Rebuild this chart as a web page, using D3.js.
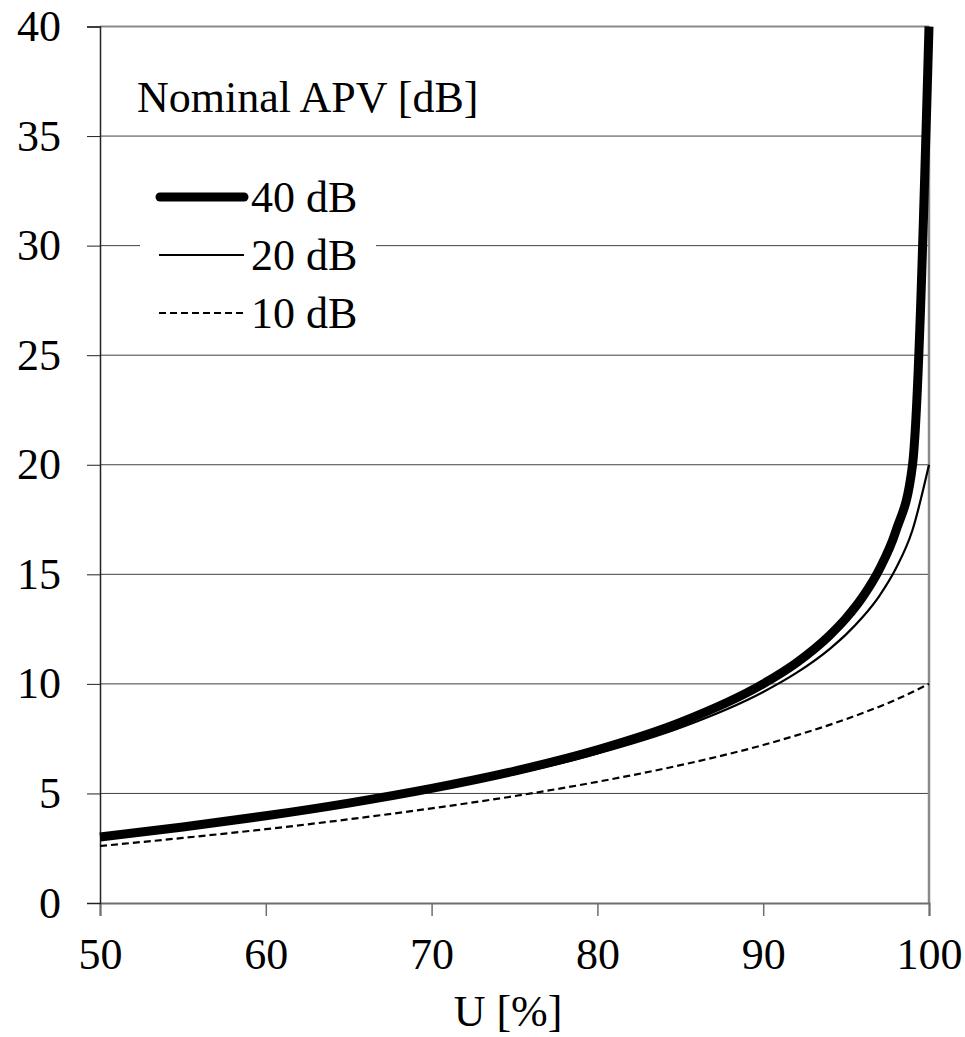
<!DOCTYPE html>
<html>
<head>
<meta charset="utf-8">
<script src="https://cdn.jsdelivr.net/npm/d3@7"></script>
</head>
<body style="margin:0">
<svg id="chart" width="965" height="1037"></svg>
<script>
// ---- data ----
const uValues = [50, 55, 60, 65, 70, 75, 80, 85, 90, 92, 94, 95, 96, 97, 98, 99, 100];
const apv40 = [3.01, 3.47, 3.98, 4.56, 5.23, 6.02, 6.99, 8.24, 10.00, 10.96, 12.21, 13.00, 13.97, 15.22, 16.97, 19.96, 40.0];
const apv20 = [2.97, 3.42, 3.92, 4.48, 5.13, 5.89, 6.82, 8.00, 9.63, 10.50, 11.59, 12.26, 13.05, 14.01, 15.26, 17.01, 20.0];
const apv10 = [2.60, 2.97, 3.37, 3.82, 4.32, 4.88, 5.53, 6.29, 7.21, 7.65, 8.13, 8.39, 8.67, 8.96, 9.28, 9.63, 10.0];
const seriesNames = ["40 dB", "20 dB", "10 dB"];
const xTicks = [50, 60, 70, 80, 90, 100];
const yTicks = [0, 5, 10, 15, 20, 25, 30, 35, 40];
const legendTitle = "Nominal APV [dB]";
const xAxisTitle = "U [%]";

// ---- layout ----
const svg = d3.select("#chart");
const x = d3.scaleLinear().domain([50, 100]).range([100, 929]);
const y = d3.scaleLinear().domain([0, 40]).range([903, 26.5]);
function styleText(sel) {
  sel.style("font-family", '"Liberation Serif"').style("font-size", "44px").style("fill", "#000");
}

// gridlines
svg.append("g").selectAll("line").data(yTicks.filter(d => d > 0)).join("line")
  .attr("x1", x(50)).attr("x2", x(100))
  .attr("y1", d => y(d)).attr("y2", d => y(d))
  .attr("stroke", d => d === 40 ? "#8a8a8a" : "#404040")
  .attr("stroke-width", d => d === 40 ? 2 : 1);

// right border
svg.append("line").attr("x1", x(100)).attr("x2", x(100))
  .attr("y1", y(40)).attr("y2", y(0))
  .attr("stroke", "#8a8a8a").attr("stroke-width", 2.5);

// legend white box (covers grid)
svg.append("rect").attr("x", 140).attr("y", 165).attr("width", 236).attr("height", 175)
  .attr("fill", "#fff");

// x axis
const xAxis = d3.axisBottom(x).tickValues(xTicks).tickSize(13).tickPadding(22)
  .tickFormat(d3.format("d"));
const gx = svg.append("g").attr("transform", `translate(0,${y(0)})`).call(xAxis);
gx.attr("font-family", null).attr("font-size", null);
gx.select(".domain").attr("stroke", "#6e6e6e").attr("stroke-width", 2);
gx.selectAll(".tick line").attr("stroke", "#6e6e6e").attr("stroke-width", 1.5);
gx.selectAll("text").call(styleText);

// y axis
const yAxis = d3.axisLeft(y).tickValues(yTicks).tickSize(13).tickPadding(26)
  .tickFormat(d3.format("d"));
const gy = svg.append("g").attr("transform", `translate(${x(50)},0)`).call(yAxis);
gy.attr("font-family", null).attr("font-size", null);
gy.select(".domain").attr("stroke", "#222").attr("stroke-width", 1.5);
gy.selectAll(".tick line").attr("stroke", "#222").attr("stroke-width", 1);
gy.selectAll("text").call(styleText);

// x axis title
const xt = svg.append("text").attr("x", 508).attr("y", 1026).attr("text-anchor", "middle").text(xAxisTitle);
styleText(xt);

// ---- series ----
const styles = [
  { data: apv40, width: 9, dash: null },
  { data: apv20, width: 2.2, dash: null },
  { data: apv10, width: 2.2, dash: "7,4" }
];
const line = d3.line().x(d => x(d[0])).y(d => y(d[1])).curve(d3.curveMonotoneX);
const plot = svg.append("g");
[styles[2], styles[1], styles[0]].forEach(s => {
  plot.append("path")
    .datum(uValues.map((u, i) => [u, s.data[i]]))
    .attr("d", line)
    .attr("fill", "none").attr("stroke", "#000")
    .attr("stroke-width", s.width)
    .attr("stroke-linejoin", "round")
    .attr("stroke-dasharray", s.dash);
});

// ---- legend ----
const title = svg.append("text").attr("x", 137).attr("y", 112).text(legendTitle);
styleText(title);
const lg = svg.append("g");
const legendY = [197, 255, 313];
styles.forEach((s, i) => {
  lg.append("line")
    .attr("x1", i === 0 ? 160 : 159).attr("x2", 244)
    .attr("y1", legendY[i]).attr("y2", legendY[i])
    .attr("stroke", "#000").attr("stroke-width", s.width)
    .attr("stroke-linecap", i === 0 ? "round" : "butt")
    .attr("stroke-dasharray", s.dash);
  const t = lg.append("text").attr("x", 251).attr("y", legendY[i] + 15).text(seriesNames[i]);
  styleText(t);
});
</script>
</body>
</html>
